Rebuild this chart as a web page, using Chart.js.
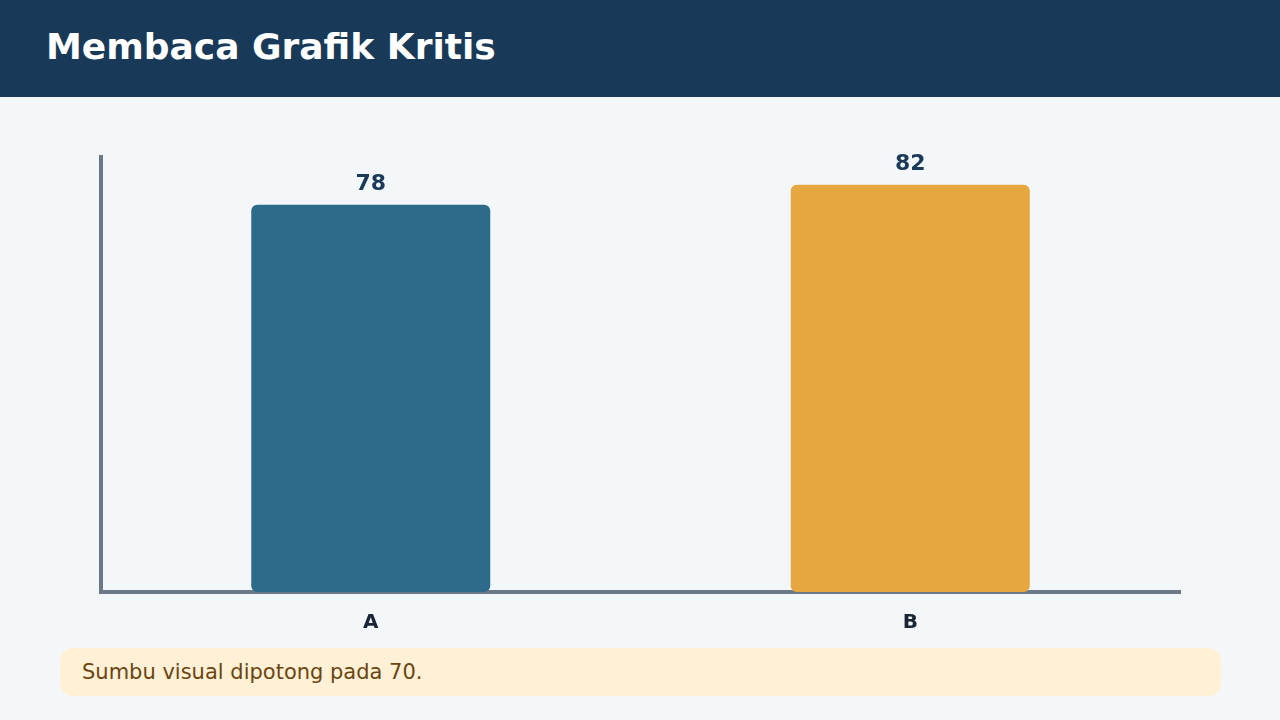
<!DOCTYPE html>
<html>
<head>
<meta charset="utf-8">
<script src="https://cdn.jsdelivr.net/npm/chart.js@4.4.1/dist/chart.umd.min.js"></script>
<style>
  html, body { margin: 0; padding: 0; }
  body {
    width: 1280px; height: 720px; overflow: hidden;
    background: #f3f7fa;
    font-family: "DejaVu Sans", sans-serif;
    position: relative;
  }
  .header {
    position: absolute; left: 0; top: 0; width: 1280px; height: 97px;
    background: #183a58;
  }
  .header h1 {
    margin: 0; position: absolute; left: 46px; top: 23px;
    color: #ffffff; font-size: 36px; font-weight: bold; line-height: 48px;
  }
  .chart-box {
    position: absolute; left: 0; top: 97px; width: 1280px; height: 549px;
  }
  .note {
    position: absolute; left: 60px; top: 648px; width: 1161px; height: 48px;
    background: #fff0d6; border-radius: 12px;
    color: #6b4510; font-size: 21px; line-height: 48px;
    box-sizing: border-box; padding-left: 22px;
  }
</style>
</head>
<body>
<div class="header"><h1>Membaca Grafik Kritis</h1></div>
<div class="chart-box"><canvas id="chart"></canvas></div>
<div class="note">Sumbu visual dipotong pada 70.</div>

<script>
const categories = ['A', 'B'];
const values = [78, 82];
const barColors = ['#2e6b8a', '#e6a640'];

// value labels above each bar
const valueLabels = {
    id: 'valueLabels',
    afterDatasetsDraw(chart) {
        const ctx = chart.ctx;
        const meta = chart.getDatasetMeta(0);
        ctx.save();
        ctx.font = 'bold 22px "DejaVu Sans"';
        ctx.fillStyle = '#1a3a58';
        ctx.textAlign = 'center';
        ctx.textBaseline = 'alphabetic';
        meta.data.forEach((bar, i) => {
            ctx.fillText(String(values[i]), bar.x, bar.y - 15);
        });
        ctx.restore();
    }
};

new Chart(document.getElementById('chart'), {
    type: 'bar',
    data: {
        labels: categories,
        datasets: [{
            data: values,
            backgroundColor: barColors,
            borderRadius: 6,
            borderSkipped: false,
            categoryPercentage: 1,
            barPercentage: 0.443
        }]
    },
    options: {
        responsive: true,
        maintainAspectRatio: false,
        animation: false,
        layout: { padding: { left: 93, right: 100, top: 60, bottom: 0 } },
        plugins: {
            legend: { display: false },
            tooltip: { enabled: false }
        },
        scales: {
            x: {
                grid: { display: false },
                border: { display: true, color: '#6b7885', width: 4 },
                ticks: {
                    color: '#1a2535',
                    padding: 11,
                    font: { family: 'DejaVu Sans', size: 20, weight: 'bold' }
                }
            },
            y: {
                min: 0,
                max: 87.6,
                grid: { display: false },
                border: { display: true, color: '#6b7885', width: 4 },
                ticks: { display: false }
            }
        }
    },
    plugins: [valueLabels]
});
</script>
</body>
</html>
